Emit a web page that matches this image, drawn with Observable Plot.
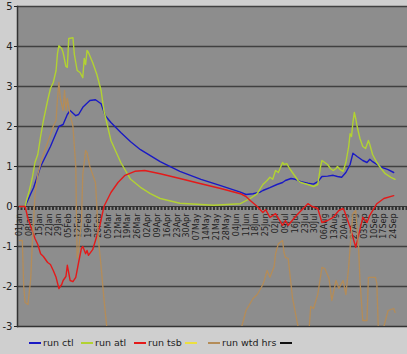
<!DOCTYPE html>
<html><head><meta charset="utf-8">
<script src="https://cdn.jsdelivr.net/npm/d3@7"></script>
<script src="https://cdn.jsdelivr.net/npm/@observablehq/plot@0.6"></script>
<style>
html,body{margin:0;padding:0;background:#cfcfcf;}
#chart{width:407px;height:354px;position:relative;overflow:hidden;font-family:"DejaVu Sans",Verdana,sans-serif;}
#chart svg{display:block;}
.legend{position:absolute;top:336px;left:0;width:407px;height:14px;font-size:9.5px;color:#222;}
.sw{position:absolute;top:6px;width:12px;height:2px;}
.lb{position:absolute;top:0;line-height:14px;white-space:nowrap;}
</style></head>
<body><div id="chart"></div>
<script>
// day offsets from 01 Jan (non-leap year) and values
const ctlDay = [0,4,5,8,10,15,22,28,31,34,36,40,42,45,50,54,58,61,65,72,79,86,100,114,129,143,157,161,166,171,173,178,183,187,189,193,196,200,205,209,212,215,219,223,226,229,232,235,237,240,244,247,249,251,254,258,262,266];
const ctlVal = [0,0,0.08,0.32,0.47,1.0,1.5,2.0,2.05,2.3,2.4,2.27,2.3,2.48,2.65,2.67,2.57,2.27,2.1,1.85,1.62,1.42,1.12,0.88,0.68,0.52,0.36,0.3,0.32,0.36,0.4,0.47,0.55,0.6,0.65,0.7,0.68,0.62,0.58,0.56,0.62,0.75,0.76,0.78,0.75,0.73,0.85,1.05,1.33,1.25,1.15,1.1,1.18,1.12,1.05,0.97,0.92,0.85];

const atlDay = [0,4,5,7,9,11,13,15,17,20,22,24,26,27,28,30,31,33,34,35,38,39,41,43,45,46,47,48,49,52,55,58,60,65,72,79,86,93,100,114,138,157,164,169,173,176,178,180,182,184,187,188,190,192,194,196,198,200,205,209,212,214,215,217,219,221,223,225,226,228,230,232,234,235,236,237,238,239,240,242,244,246,248,249,251,254,257,260,264,267];
const atlVal = [0,0,0.15,0.4,0.7,1.1,1.3,1.75,2.15,2.65,2.95,3.1,3.4,3.82,4.02,3.95,3.85,3.5,3.48,4.2,4.22,3.8,3.4,3.35,3.22,3.7,3.55,3.9,3.85,3.6,3.3,2.9,2.4,1.65,1.1,0.68,0.48,0.32,0.2,0.08,0.03,0.07,0.2,0.32,0.55,0.65,0.73,0.68,0.9,0.85,1.1,1.05,1.07,0.95,0.85,0.75,0.65,0.6,0.55,0.5,0.55,1.0,1.15,1.1,1.05,0.95,0.9,0.95,1.0,0.92,0.88,1.1,1.5,1.82,1.75,2.1,2.35,2.2,2.0,1.7,1.5,1.45,1.65,1.55,1.3,1.1,0.95,0.82,0.73,0.68];

const tsbDay = [0,4,6,8,11,13,15,17,20,22,24,26,28,30,31,33,34,36,38,40,42,44,45,47,48,49,52,54,57,60,65,70,75,82,89,100,114,129,143,157,161,164,169,173,175,178,182,187,189,191,195,198,205,208,212,215,219,223,227,230,231,235,239,241,244,247,249,254,259,266];
const tsbVal = [0,0,-0.3,-0.5,-0.8,-0.95,-1.18,-1.25,-1.4,-1.45,-1.6,-1.77,-2.05,-1.95,-1.85,-1.75,-1.47,-1.85,-1.88,-1.77,-1.4,-1.05,-1.0,-1.18,-1.1,-1.22,-1.08,-0.85,-0.5,0,0.35,0.6,0.78,0.88,0.9,0.82,0.7,0.57,0.45,0.32,0.25,0.15,0,-0.15,-0.08,-0.27,-0.18,-0.47,-0.35,-0.47,-0.3,-0.18,0.07,0,-0.05,-0.4,-0.35,-0.27,-0.1,-0.05,-0.12,-0.52,-1.02,-0.73,-0.27,-0.4,-0.22,0.07,0.2,0.27];

const hrsDay = [0,2,3,4,6,8,9,11,13,16,19,22,24,26,27,28,29,31,32,33,34,35,36,38,40,41,42,44,45,47,48,50,52,54,55,56,58,60,62,63,157,158,161,166,169,173,174,176,178,181,182,184,187,188,189,191,194,198,199,205,206,207,209,212,215,217,220,222,225,227,230,232,234,235,237,239,241,242,244,247,248,253,254,255,256,258,259,262,266,267];
const hrsVal = [-0.85,-0.85,-2.0,-2.4,-2.45,-1.8,-1.0,0.3,0.8,1.2,1.5,1.8,2.0,2.15,2.7,3.1,2.7,2.4,2.9,2.4,2.7,2.5,2.3,2.0,1.0,-1.3,-1.1,-0.4,0.8,1.4,1.35,1.0,0.8,0.6,0.0,-0.8,-1.5,-2.3,-3.0,-3.5,-3.5,-3.0,-2.6,-2.3,-2.2,-1.95,-1.85,-1.6,-1.77,-1.5,-1.18,-0.93,-0.85,-1.15,-1.27,-1.3,-2.27,-3.0,-3.5,-3.5,-3.0,-2.5,-2.55,-2.2,-1.52,-1.55,-1.8,-2.35,-1.85,-2.05,-1.85,-2.2,-1.5,-1.02,-0.18,-0.1,-1.0,-1.85,-2.85,-2.85,-1.77,-1.77,-1.92,-3.0,-3.5,-3.5,-3.0,-2.6,-2.55,-2.65];

const weekLabels = ["01Jan","08Jan","15Jan","22Jan","29Jan","05Feb","12Feb","19Feb","26Feb","05Mar","12Mar","19Mar","26Mar","02Apr","09Apr","16Apr","23Apr","30Apr","07May","14May","21May","28May","04Jun","11Jun","18Jun","25Jun","02Jul","09Jul","16Jul","23Jul","30Jul","06Aug","13Aug","20Aug","27Aug","03Sep","10Sep","17Sep","24Sep"];
const yTicks = [-3,-2,-1,0,1,2,3,4,5];
const seriesNames = ["run ctl","run atl","run tsb","","run wtd hrs",""];

const day = d => new Date(Date.UTC(2007, 0, 1) + d * 864e5);
const rows = (days, vals) => days.map((d, i) => ({date: day(d), v: vals[i]}));
const ctl = rows(ctlDay, ctlVal), atl = rows(atlDay, atlVal), tsb = rows(tsbDay, tsbVal), hrs = rows(hrsDay, hrsVal);
const weeks = weekLabels.map((t, i) => ({date: day(i * 7), t}));

const colors = {ctl: "#1a1ac4", atl: "#b2d232", tsb: "#e41a1a", hrs: "#b48c58"};

const chart = Plot.plot({
  width: 407, height: 332,
  marginLeft: 17, marginRight: 0, marginTop: 6, marginBottom: 6,
  style: {background: "transparent", fontFamily: "DejaVu Sans, Verdana, sans-serif", color: "#222"},
  x: {type: "utc", domain: [day(-1.42), day(275.8)], axis: null, label: null},
  y: {domain: [-3, 5], axis: null, label: null},
  marks: [
    Plot.frame({fill: "#8d8d8d", stroke: "none"}),
    Plot.ruleY([-2, -1, 1, 2, 3, 4, 5], {stroke: "#404040", strokeWidth: 1.5}),
    Plot.ruleY([-3], {stroke: "#333", strokeWidth: 1.5}),
    Plot.ruleY([0], {stroke: "#333", strokeWidth: 1.2}),
    Plot.ruleY([0], {stroke: "#333", strokeWidth: 3, strokeDasharray: "2,1.5", dy: 2}),
    Plot.frame({anchor: "left", stroke: "#333", strokeWidth: 1.5}),
    Plot.axisY(yTicks, {anchor: "left", label: null, tickSize: 3, tickPadding: 2, fontSize: 10, tickFormat: d => d}),
    Plot.text(weeks, {x: "date", y: () => 0, text: "t", rotate: -90, textAnchor: "end", dy: 7, fontSize: 8, fill: "#222"}),
    Plot.lineY(ctl, {x: "date", y: "v", stroke: colors.ctl, strokeWidth: 1.4, clip: true}),
    Plot.lineY(atl, {x: "date", y: "v", stroke: colors.atl, strokeWidth: 1.4, clip: true}),
    Plot.lineY(tsb, {x: "date", y: "v", stroke: colors.tsb, strokeWidth: 1.4, clip: true}),
    Plot.lineY(hrs, {x: "date", y: "v", stroke: colors.hrs, strokeWidth: 1.3, clip: true})
  ]
});
const root = document.getElementById("chart");
root.appendChild(chart);

const legend = document.createElement("div");
legend.className = "legend";
const items = [
  {c: colors.ctl, name: seriesNames[0], sx: 29, lx: 43},
  {c: colors.atl, name: seriesNames[1], sx: 81, lx: 95},
  {c: colors.tsb, name: seriesNames[2], sx: 134, lx: 148},
  {c: "#ece040", name: seriesNames[3], sx: 185, lx: 199},
  {c: colors.hrs, name: seriesNames[4], sx: 208, lx: 222},
  {c: "#111", name: seriesNames[5], sx: 280, lx: 294}
];
for (const it of items) {
  const s = document.createElement("span");
  s.className = "sw"; s.style.left = it.sx + "px"; s.style.background = it.c;
  legend.appendChild(s);
  if (it.name) {
    const l = document.createElement("span");
    l.className = "lb"; l.style.left = it.lx + "px"; l.textContent = it.name;
    legend.appendChild(l);
  }
}
root.appendChild(legend);
</script>
</body></html>
